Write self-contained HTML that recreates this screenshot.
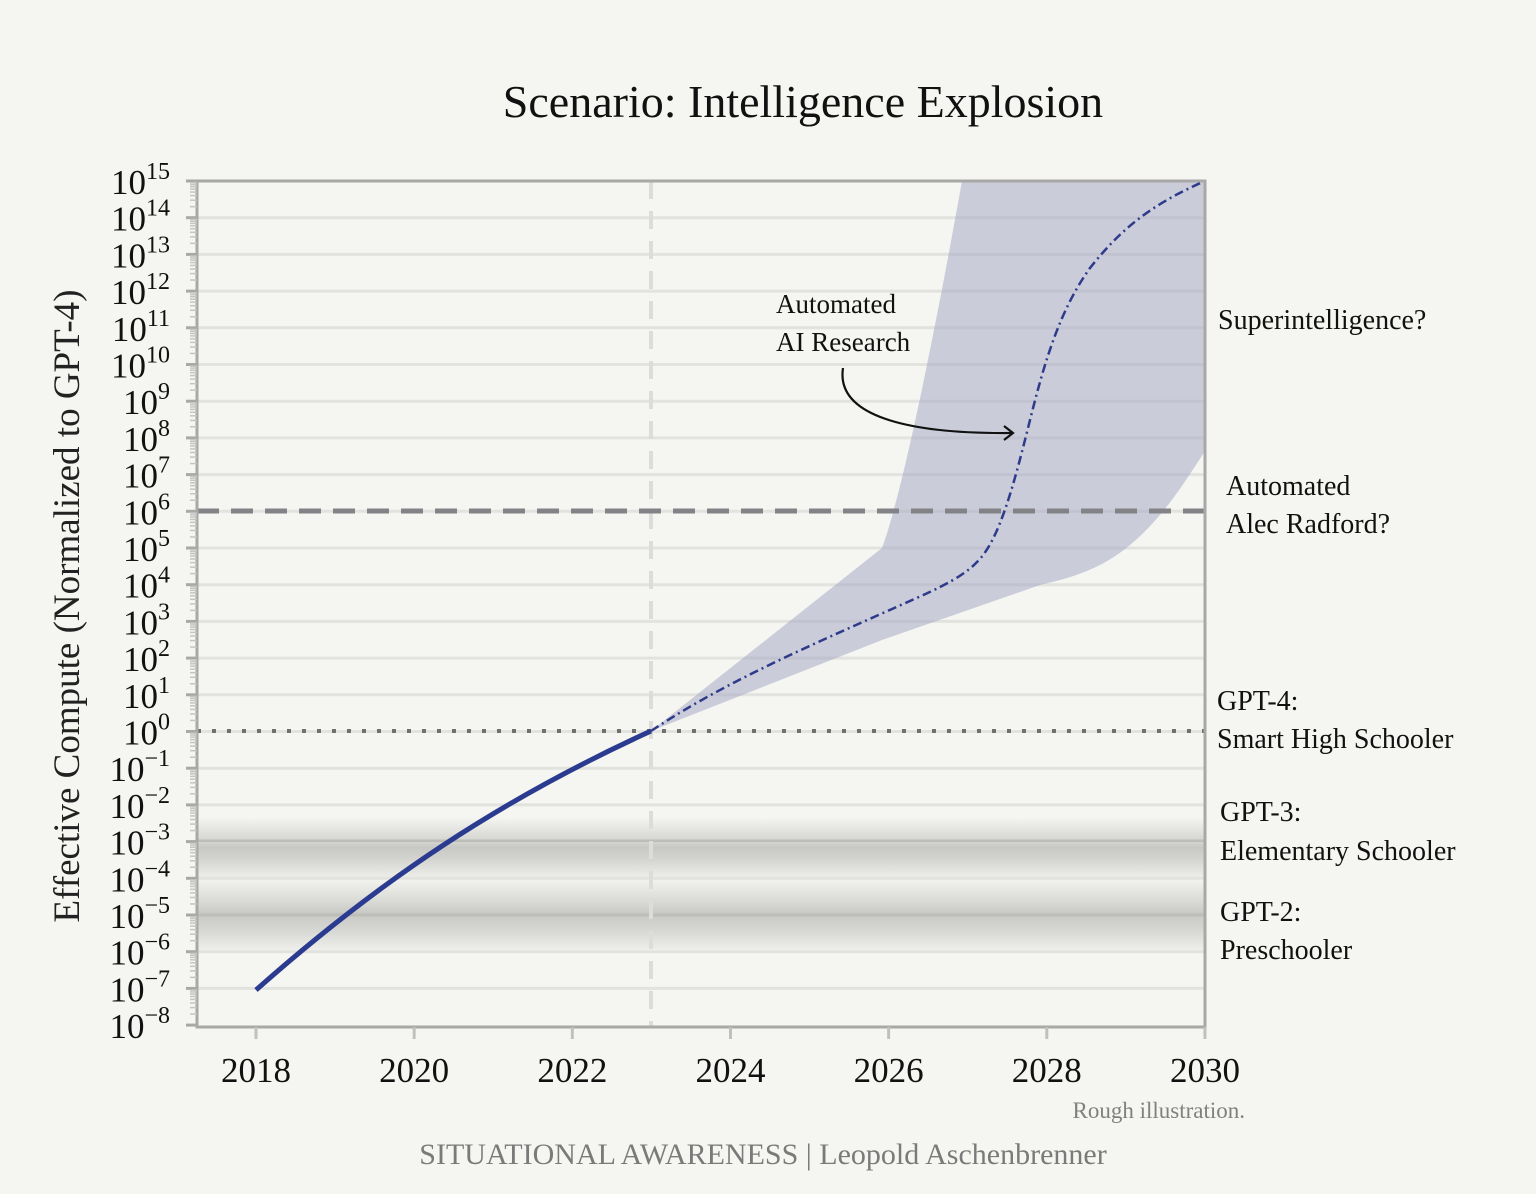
<!DOCTYPE html>
<html><head><meta charset="utf-8"><style>
html,body{margin:0;padding:0;background:#f5f5f1;}
svg{display:block;font-family:"Liberation Serif",serif;}
</style></head><body>
<svg id="s" width="1536" height="1194" viewBox="0 0 1536 1194" xmlns="http://www.w3.org/2000/svg">
<defs>
<linearGradient id="bg" x1="0" y1="0" x2="0" y2="1">
<stop offset="0" stop-color="#f5f5f1"/>
<stop offset="0.35" stop-color="#d8d8d5"/>
<stop offset="0.5" stop-color="#c8c8c5"/>
<stop offset="0.7" stop-color="#d4d4d1"/>
<stop offset="1" stop-color="#eeeeea"/>
</linearGradient>
</defs>
<rect width="1536" height="1194" fill="#f5f5f1"/>
<text x="803" y="117" font-size="46" text-anchor="middle" fill="#111">Scenario: Intelligence Explosion</text>
<rect x="197" y="817" width="1008" height="61" fill="url(#bg)"/>
<rect x="197" y="877" width="1008" height="73" fill="url(#bg)"/>
<g id="grid"></g>
<line x1="197" y1="841" x2="1205" y2="841" stroke="#bdbdba" stroke-width="3"/>
<line x1="197" y1="915" x2="1205" y2="915" stroke="#bdbdba" stroke-width="3"/>
<line x1="651" y1="181" x2="651" y2="1027" stroke="#dcdcd8" stroke-width="4" stroke-dasharray="18 12"/>
<path d="M651,731 L882,548 C900,500 930,360 962,181 L1205,181 L1205,451 C1180,490 1160,520 1130,545 C1100,570 1070,578 1040,585 L882,640 Z" fill="#9fa3c4" fill-opacity="0.5"/>
<line x1="197" y1="511" x2="1205" y2="511" stroke="#838387" stroke-width="5" stroke-dasharray="22 12"/>
<line x1="197" y1="731" x2="1205" y2="731" stroke="#707070" stroke-width="4" stroke-dasharray="4 11"/>
<path d="M651,731 C720,685 800,650 883,613 C930,592 960,580 977,562 C1000,540 1015,480 1030,420 C1045,360 1060,310 1090,268 C1120,230 1150,205 1205,181" fill="none" stroke="#2e3a8a" stroke-width="2.5" stroke-dasharray="9 4 2 4"/>
<path d="M256,990 C380,880 500,800 651,731" fill="none" stroke="#2b3b8f" stroke-width="5"/>
<path d="M843,368 C835,420 920,434 1012,433" fill="none" stroke="#111" stroke-width="2.2"/>
<path d="M1004,426 L1013,433 L1004,440" fill="none" stroke="#111" stroke-width="2.2"/>
<rect x="197" y="181" width="1008" height="846" fill="none" stroke="#a8a8a6" stroke-width="3"/>
<g id="ticks"></g>
<text x="776" y="313" font-size="27" fill="#111">Automated</text>
<text x="776" y="351" font-size="27" fill="#111">AI Research</text>
<g font-size="28" fill="#111">
<text x="1218" y="329">Superintelligence?</text>
<text x="1226" y="495">Automated</text>
<text x="1226" y="533">Alec Radford?</text>
<text x="1217" y="710">GPT-4:</text>
<text x="1217" y="748">Smart High Schooler</text>
<text x="1220" y="821">GPT-3:</text>
<text x="1220" y="860">Elementary Schooler</text>
<text x="1220" y="921">GPT-2:</text>
<text x="1220" y="959">Preschooler</text>
</g>
<text transform="translate(79,606) rotate(-90)" font-size="37" text-anchor="middle" fill="#222">Effective Compute (Normalized to GPT-4)</text>
<text x="1245" y="1118" font-size="23" text-anchor="end" fill="#808080">Rough illustration.</text>
<text x="763" y="1164" font-size="30" text-anchor="middle" fill="#7a7a7a">SITUATIONAL AWARENESS | Leopold Aschenbrenner</text>
</svg>
<script>
(function(){
var NS="http://www.w3.org/2000/svg";
function el(p,t,a,txt){var e=document.createElementNS(NS,t);for(var k in a)e.setAttribute(k,a[k]);if(txt!==undefined)e.textContent=txt;p.appendChild(e);return e;}
var g=document.getElementById("grid"),tk=document.getElementById("ticks");
var y0=181,d=36.7;
for(var p=15;p>=-8;p--){
 var y=y0+(15-p)*d;
 if(p!==15&&p!==-8) el(g,"line",{x1:197,x2:1205,y1:y,y2:y,stroke:"#e2e2de","stroke-width":3});
 el(tk,"line",{x1:186,x2:197,y1:y,y2:y,stroke:"#a8a8a6","stroke-width":3});
 if(p>-8){for(var m=2;m<10;m++){var ym=y+d-Math.log10(m)*d;el(tk,"line",{x1:190,x2:197,y1:ym,y2:ym,stroke:"#c4c4c2","stroke-width":1.5});}}
 var t=el(tk,"text",{x:170,y:y+13,"font-size":35,"text-anchor":"end",fill:"#111"});
 el(t,"tspan",{},"10");
 el(t,"tspan",{"font-size":24,dy:-15},p<0?"\u2212"+(-p):String(p));
}
var x0=256,dx=79.08;
for(var yr=2018;yr<=2030;yr+=2){
 var x=x0+(yr-2018)*dx;
 el(tk,"line",{x1:x,x2:x,y1:1027,y2:1039,stroke:"#c0c0be","stroke-width":3});
 el(tk,"text",{x:x,y:1082,"font-size":35,"text-anchor":"middle",fill:"#111"},String(yr));
}
})();
</script>
</body></html>
